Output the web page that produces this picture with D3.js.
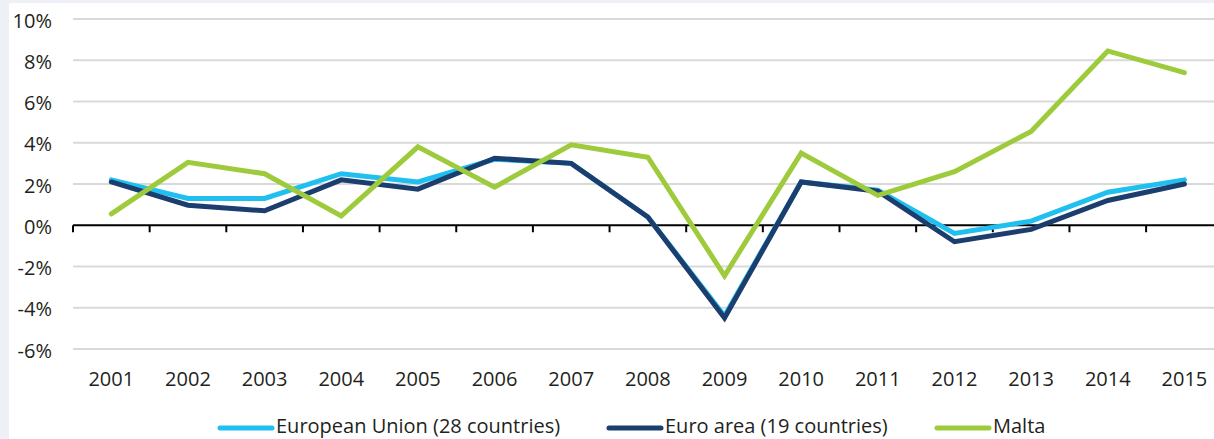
<!DOCTYPE html>
<html>
<head>
<meta charset="utf-8">
<script src="https://cdn.jsdelivr.net/npm/d3@7"></script>
<style>
  html, body { margin: 0; padding: 0; background: #edf1f5; }
  svg { display: block; }
  text { font-family: "Open Sans", Lato, sans-serif; fill: #231f20; }
</style>
</head>
<body>
<svg id="chart" width="1214" height="439"></svg>
<script>
// Annual real GDP growth (%)
const years = ["2001","2002","2003","2004","2005","2006","2007","2008","2009","2010","2011","2012","2013","2014","2015"];
const euValues    = [2.2, 1.3, 1.3, 2.5, 2.1, 3.2, 3.0, 0.4, -4.4, 2.1, 1.7, -0.4, 0.2, 1.6, 2.2];
const euroValues  = [2.1, 0.97, 0.7, 2.2, 1.75, 3.25, 3.0, 0.4, -4.5, 2.1, 1.65, -0.8, -0.2, 1.2, 2.0];
const maltaValues = [0.55, 3.05, 2.5, 0.45, 3.8, 1.85, 3.9, 3.3, -2.45, 3.5, 1.45, 2.6, 4.55, 8.45, 7.4];
const yTicks = [-6, -4, -2, 0, 2, 4, 6, 8, 10];

const series = [
  { name: "European Union (28 countries)", values: euValues,    color: "#1fc0f0" },
  { name: "Euro area (19 countries)",      values: euroValues,  color: "#1b3e6e" },
  { name: "Malta",                         values: maltaValues, color: "#9dcb3c" }
];

const svg = d3.select("#chart");

// white panel
svg.append("rect").attr("x", 9).attr("y", 3).attr("width", 1214).attr("height", 440).attr("fill", "#ffffff");

const x = d3.scaleBand().domain(years).range([73, 73 + 15 * 76.65]);
const y = d3.scaleLinear().domain([-6, 10]).range([349, 19]);

// horizontal gridlines
svg.append("g")
  .selectAll("line")
  .data(yTicks.filter(d => d !== 0))
  .join("line")
  .attr("x1", 73).attr("x2", 1214)
  .attr("y1", d => y(d)).attr("y2", d => y(d))
  .attr("stroke", "#d9d9d9").attr("stroke-width", 2);

// y labels
svg.append("g")
  .selectAll("text")
  .data(yTicks)
  .join("text")
  .attr("x", 52)
  .attr("y", d => y(d) + 8.5)
  .attr("text-anchor", "end")
  .attr("font-size", 20)
  .text(d => d + "%");

// zero axis with category boundary ticks
const boundaries = years.map(d => x(d)).concat([x.range()[1]]);
svg.append("line")
  .attr("x1", 73).attr("x2", 1214)
  .attr("y1", y(0)).attr("y2", y(0))
  .attr("stroke", "#000").attr("stroke-width", 2);
svg.append("g")
  .selectAll("line")
  .data(boundaries)
  .join("line")
  .attr("x1", d => d).attr("x2", d => d)
  .attr("y1", y(0)).attr("y2", y(0) + 7)
  .attr("stroke", "#000").attr("stroke-width", 2);

// x labels
svg.append("g")
  .selectAll("text")
  .data(years)
  .join("text")
  .attr("x", d => x(d) + x.bandwidth() / 2)
  .attr("y", 386)
  .attr("text-anchor", "middle")
  .attr("font-size", 20)
  .text(d => d);

// lines
const line = d3.line()
  .x((d, i) => x(years[i]) + x.bandwidth() / 2)
  .y(d => y(d));

svg.append("g")
  .selectAll("path")
  .data(series)
  .join("path")
  .attr("d", s => line(s.values))
  .attr("fill", "none")
  .attr("stroke", s => s.color)
  .attr("stroke-width", 5)
  .attr("stroke-linejoin", "miter")
  .attr("stroke-linecap", "round");

// legend
const legendX = [218, 607, 935];
const legend = svg.append("g")
  .selectAll("g")
  .data(series)
  .join("g")
  .attr("transform", (s, i) => `translate(${legendX[i]},428)`);
legend.append("line")
  .attr("x1", 2).attr("x2", 54)
  .attr("stroke", s => s.color)
  .attr("stroke-width", 5)
  .attr("stroke-linecap", "round");
legend.append("text")
  .attr("x", 58)
  .attr("y", 5)
  .attr("font-size", 20)
  .text(s => s.name);
</script>
</body>
</html>
